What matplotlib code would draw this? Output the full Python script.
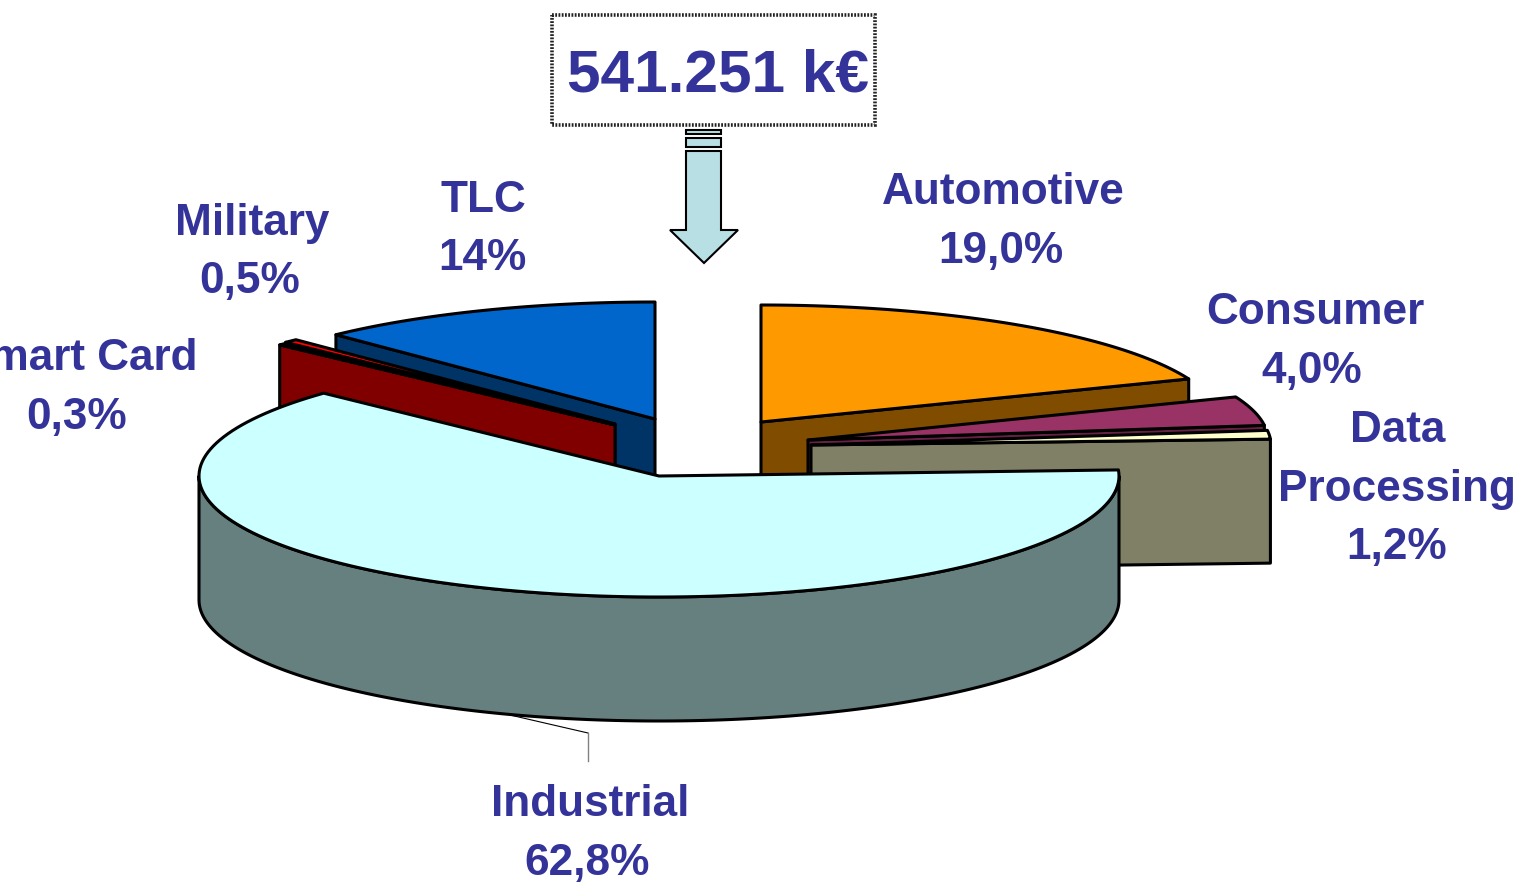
import numpy as np
import matplotlib
matplotlib.use('Agg')
import matplotlib.pyplot as plt
from matplotlib.patches import Polygon, Rectangle

plt.rcParams['font.family'] = ['Liberation Sans', 'DejaVu Sans']

# slices in clockwise order from 12 o'clock
sectors = ['Automotive', 'Consumer', 'Data Processing', 'Industrial', 'Smart Card', 'Military', 'TLC']
shares = [19.0, 4.0, 1.2, 62.8, 0.3, 0.5, 12.2]   # share as drawn, the TLC label says 14%
share_labels = ['19,0%', '4,0%', '1,2%', '62,8%', '0,3%', '0,5%', '14%']
total_label = '541.251 k€'

top_colors = ['#FF9900', '#993366', '#FFFFCC', '#CCFFFF', '#800000', '#FF0000', '#0066CC']
wall_colors = ['#804D00', '#662244', '#808066', '#668080', '#800000', '#800000', '#003366']

# where each exploded slice sits on the page (pixels)
centers = [(761, 422), (808, 440), (811, 445), (659, 476), (615, 425), (615, 424), (655, 419)]
radii_y = [117, 117, 117, 121, 117, 117, 117]
RX = 460
DEPTH = 124
EDGE = 2.2
TEXT = '#333399'
FS = 31.8

fig = plt.figure(figsize=(15.23, 8.82), dpi=100)
ax = fig.add_axes([0, 0, 1, 1])
ax.set_xlim(0, 1523)
ax.set_ylim(882, 0)
ax.axis('off')


def rim(c, ry, a, b, n=150):
    t = np.radians(np.linspace(a, b, n))
    return np.column_stack([c[0] + RX * np.cos(t), c[1] - ry * np.sin(t)])


def face(pts, color, z):
    ax.add_patch(Polygon(pts, closed=True, facecolor=color, edgecolor='black',
                         linewidth=EDGE, joinstyle='round', zorder=z))


def wall(top_pts, color, z):
    low = top_pts[::-1] + [0, DEPTH]
    face(np.vstack([top_pts, low]), color, z)


# angle limits of every slice
ends = 90 - np.cumsum(shares) * 3.6
starts = np.concatenate([[90], ends[:-1]])

# painter's order: back left, then right, Industrial last
draw_order = [6, 5, 4, 0, 1, 2, 3]
for z, i in enumerate(draw_order):
    c = centers[i]
    ry = radii_y[i]
    base = 10 * (z + 1)
    lo, hi = ends[i], starts[i]
    # radial cuts that face the viewer
    for ang, side in ((lo, -90), (hi, 90)):
        if np.sin(np.radians(ang + side)) < -1e-6:
            tip = rim(c, ry, ang, ang, 1)
            wall(np.vstack([[c], tip]), wall_colors[i], base)
    # outer wall, only where the rim is in the front half
    for k in range(-1, 1):
        a = max(lo, k * 360 - 180)
        b = min(hi, k * 360)
        if b > a:
            wall(rim(c, ry, a, b), wall_colors[i], base + 1)
    face(np.vstack([[c], rim(c, ry, lo, hi)]), top_colors[i], base + 2)

# leader line of Industrial
ax.plot([510, 588], [715, 733], color='black', lw=0.8, zorder=5)
ax.plot([588, 588], [733, 761], color='#808080', lw=1.0, zorder=5)

# total box
ax.add_patch(Rectangle((552, 15), 323, 110, facecolor='white', edgecolor='#222222',
                       linewidth=2.6, linestyle=(0, (0.5, 0.4)), zorder=100))
ax.text(718, 76, total_label, color=TEXT, fontsize=43.5, fontweight='bold',
        ha='center', va='center', zorder=101)

# arrow below the box
ARROW = '#B8E0E4'
ax.add_patch(Rectangle((686, 130), 35, 4, facecolor=ARROW, edgecolor='black', lw=1.5, zorder=100))
ax.add_patch(Rectangle((686, 138), 35, 9, facecolor=ARROW, edgecolor='black', lw=1.5, zorder=100))
ax.add_patch(Polygon([(686, 151), (721, 151), (721, 230), (738, 230), (704, 263), (670, 230), (686, 230)],
                     closed=True, facecolor=ARROW, edgecolor='black', lw=1.5, zorder=100))


def label(x, y, s, ha='center'):
    ax.text(x, y + 3, s, color=TEXT, fontsize=FS, fontweight='bold', ha=ha, va='center', zorder=101)


label(1003, 189, sectors[0])
label(1001, 248, share_labels[0])
label(1315, 310, sectors[1])
label(1312, 368, share_labels[1])
label(1398, 427, sectors[2].split()[0])
label(1397, 487, sectors[2].split()[1])
label(1397, 545, share_labels[2])
label(590, 802, sectors[3])
label(587, 860, share_labels[3])
label(198, 355, sectors[4], ha='right')
label(77, 414, share_labels[4])
label(252, 220, sectors[5])
label(250, 279, share_labels[5])
label(483, 197, sectors[6])
label(482, 256, share_labels[6])

fig.savefig('out.png', dpi=100)
